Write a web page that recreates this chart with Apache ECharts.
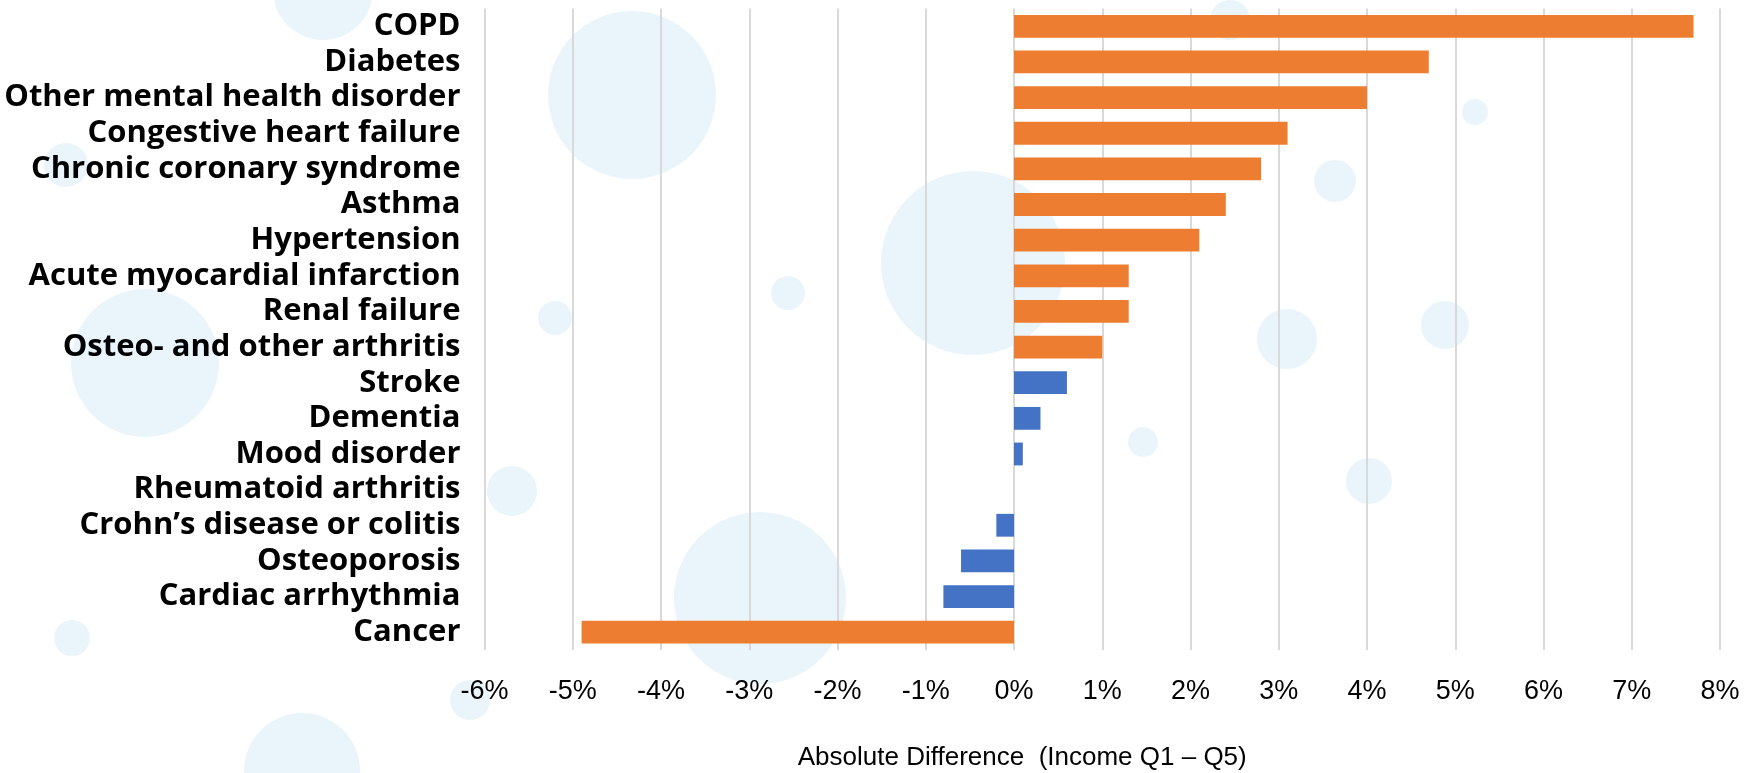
<!DOCTYPE html>
<html>
<head>
<meta charset="utf-8">
<script src="https://cdn.jsdelivr.net/npm/echarts@6/dist/echarts.min.js"></script>
<style>
html,body{margin:0;padding:0;background:#fff;}
#chart{width:1753px;height:773px;}
</style>
</head>
<body>
<div id="chart"></div>
<script>
const categories = [
  "COPD", "Diabetes", "Other mental health disorder", "Congestive heart failure",
  "Chronic coronary syndrome", "Asthma", "Hypertension", "Acute myocardial infarction",
  "Renal failure", "Osteo- and other arthritis", "Stroke", "Dementia", "Mood disorder",
  "Rheumatoid arthritis", "Crohn\u2019s disease or colitis", "Osteoporosis",
  "Cardiac arrhythmia", "Cancer"
];
// Absolute difference (Income Q1 - Q5), in percent
const values = [7.7, 4.7, 4.0, 3.1, 2.8, 2.4, 2.1, 1.3, 1.3, 1.0, 0.6, 0.3, 0.1, 0, -0.2, -0.6, -0.8, -4.9];
// 1 = orange bar, 0 = blue bar
const highlighted = [1, 1, 1, 1, 1, 1, 1, 1, 1, 1, 0, 0, 0, 0, 0, 0, 0, 1];
const tickMin = -6, tickMax = 8, tickStep = 1;
const axisTitle = "Absolute Difference  (Income Q1 \u2013 Q5)";

const orangeData = values.map((v, i) => highlighted[i] ? v : '-');
const blueData = values.map((v, i) => highlighted[i] ? '-' : v);

const FONT = "'Liberation Sans', Arial, sans-serif";
const LABEL_FONT = "'Open Sans', 'Liberation Sans', Arial, sans-serif";
const chart = echarts.init(document.getElementById('chart'), null, {renderer: 'canvas'});

// faint decorative background (network of circles)
const bgCircles = [
  [632, 95, 84], [973, 263, 92], [760, 598, 86], [145, 363, 74], [302, 771, 58],
  [323, -10, 50], [555, 318, 17], [788, 293, 17], [1287, 339, 30], [1335, 181, 21],
  [1445, 325, 24], [1475, 112, 13], [1143, 442, 15], [1369, 481, 23], [512, 491, 25],
  [72, 638, 18], [470, 700, 20], [66, 165, 22], [1230, 20, 20]
];
const graphics = bgCircles.map(c => ({
  type: 'circle', silent: true, z: -10,
  shape: {cx: c[0], cy: c[1], r: c[2]},
  style: {fill: '#EAF5FB'}
}));

chart.setOption({
  backgroundColor: '#ffffff',
  animation: false,
  graphic: graphics,
  grid: {left: 484.5, right: 33, top: 8.5, bottom: 123, containLabel: false, outerBoundsMode: 'none'},
  xAxis: {
    type: 'value', min: tickMin, max: tickMax, interval: tickStep,
    axisLine: {show: false}, axisTick: {show: false},
    splitLine: {show: true, lineStyle: {color: '#D9D9D9', width: 2}},
    axisLabel: {formatter: '{value}%', color: '#000', fontSize: 27, fontFamily: FONT, margin: 28},
    name: axisTitle, nameLocation: 'middle', nameGap: 95,
    nameTextStyle: {color: '#000', fontSize: 26, fontFamily: FONT, padding: [0, 160, 0, 0]}
  },
  yAxis: {
    type: 'category', data: categories, inverse: true,
    axisLine: {show: false}, axisTick: {show: false}, splitLine: {show: false},
    axisLabel: {interval: 0, color: '#000', fontSize: 31, fontWeight: 'bold', fontFamily: LABEL_FONT, margin: 24}
  },
  series: [
    {type: 'bar', name: 'orange', data: orangeData, barCategoryGap: '36%', barGap: '-100%',
     itemStyle: {color: '#ED7D31'}},
    {type: 'bar', name: 'blue', data: blueData, barCategoryGap: '36%', barGap: '-100%',
     itemStyle: {color: '#4472C4'}}
  ]
});
</script>
</body>
</html>
